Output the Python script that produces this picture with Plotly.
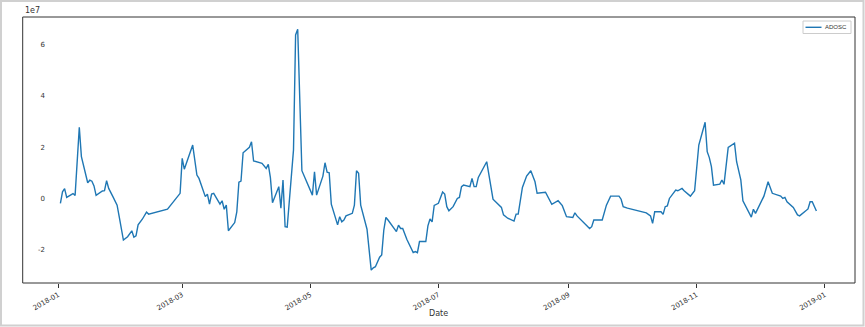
import plotly.graph_objects as go

# ---- data (units of 1e7) ----
dates = [
    "2018-01-02", "2018-01-03", "2018-01-04", "2018-01-05", "2018-01-06", "2018-01-08", "2018-01-09",
    "2018-01-11", "2018-01-12", "2018-01-15", "2018-01-16", "2018-01-17", "2018-01-18", "2018-01-19",
    "2018-01-22", "2018-01-23", "2018-01-24", "2018-01-25", "2018-01-27", "2018-01-29", "2018-01-30",
    "2018-02-01", "2018-02-03", "2018-02-05", "2018-02-06", "2018-02-07", "2018-02-08", "2018-02-10",
    "2018-02-12", "2018-02-13", "2018-02-22", "2018-02-26", "2018-02-27", "2018-02-28",
    "2018-03-01", "2018-03-02", "2018-03-06", "2018-03-08", "2018-03-09", "2018-03-11", "2018-03-12",
    "2018-03-13", "2018-03-14", "2018-03-15", "2018-03-16", "2018-03-19", "2018-03-20", "2018-03-21",
    "2018-03-22", "2018-03-23", "2018-03-26", "2018-03-27", "2018-03-28", "2018-03-29", "2018-03-30",
    "2018-04-02", "2018-04-03", "2018-04-04", "2018-04-08", "2018-04-10", "2018-04-11", "2018-04-12",
    "2018-04-13", "2018-04-16", "2018-04-17", "2018-04-18", "2018-04-19", "2018-04-20", "2018-04-23",
    "2018-04-24", "2018-04-25", "2018-04-27",
    "2018-05-02", "2018-05-03", "2018-05-04", "2018-05-07", "2018-05-08", "2018-05-09", "2018-05-10",
    "2018-05-11", "2018-05-14", "2018-05-15", "2018-05-16", "2018-05-17", "2018-05-18", "2018-05-21",
    "2018-05-22", "2018-05-23", "2018-05-24", "2018-05-25", "2018-05-28", "2018-05-30", "2018-05-31",
    "2018-06-01", "2018-06-03", "2018-06-04", "2018-06-05", "2018-06-06", "2018-06-07", "2018-06-11",
    "2018-06-12", "2018-06-13", "2018-06-14", "2018-06-16", "2018-06-19", "2018-06-20", "2018-06-21",
    "2018-06-22", "2018-06-25", "2018-06-26", "2018-06-27", "2018-06-28", "2018-06-29",
    "2018-07-01", "2018-07-03", "2018-07-04", "2018-07-05", "2018-07-06", "2018-07-08", "2018-07-10",
    "2018-07-11", "2018-07-12", "2018-07-13", "2018-07-16", "2018-07-17", "2018-07-18", "2018-07-19",
    "2018-07-20", "2018-07-24", "2018-07-27", "2018-07-30", "2018-07-31",
    "2018-08-01", "2018-08-03", "2018-08-06", "2018-08-07", "2018-08-08", "2018-08-10", "2018-08-12",
    "2018-08-14", "2018-08-16", "2018-08-17", "2018-08-21", "2018-08-24", "2018-08-27", "2018-08-29",
    "2018-08-31",
    "2018-09-03", "2018-09-04", "2018-09-05", "2018-09-11", "2018-09-12", "2018-09-13", "2018-09-17",
    "2018-09-19", "2018-09-21", "2018-09-25", "2018-09-26", "2018-09-27", "2018-09-29",
    "2018-10-08", "2018-10-09", "2018-10-10", "2018-10-11", "2018-10-12", "2018-10-15", "2018-10-16",
    "2018-10-17", "2018-10-18", "2018-10-19", "2018-10-22", "2018-10-23", "2018-10-25", "2018-10-26",
    "2018-10-29", "2018-10-31",
    "2018-11-02", "2018-11-05", "2018-11-06", "2018-11-07", "2018-11-08", "2018-11-09", "2018-11-12",
    "2018-11-13", "2018-11-14", "2018-11-16", "2018-11-19", "2018-11-20", "2018-11-22", "2018-11-23",
    "2018-11-27", "2018-11-28", "2018-11-29",
    "2018-12-03", "2018-12-05", "2018-12-07", "2018-12-11", "2018-12-12", "2018-12-13", "2018-12-14",
    "2018-12-17", "2018-12-19", "2018-12-20", "2018-12-24", "2018-12-25", "2018-12-26", "2018-12-27",
    "2018-12-28",
]
adosc_1e7 = [
    -0.18, 0.27, 0.39, 0.05, 0.10, 0.20, 0.13,
    2.78, 1.64, 0.62, 0.72, 0.68, 0.50, 0.13,
    0.30, 0.31, 0.70, 0.40, 0.08, -0.25, -0.70,
    -1.61, -1.48, -1.25, -1.50, -1.45, -1.02, -0.80,
    -0.52, -0.60, -0.41, 0.01, 0.08, 0.21,
    1.57, 1.15, 2.09, 0.92, 0.79, 0.27, 0.08,
    0.18, -0.21, 0.18, 0.21, -0.21, -0.08, -0.41,
    -0.25, -1.25, -0.93, -0.51, 0.64, 0.69, 1.79,
    2.00, 2.22, 1.47, 1.38, 1.18, 1.34, 0.82,
    -0.16, 0.47, -0.37, 0.73, -1.09, -1.11, 1.90,
    6.38, 6.60, 1.09,
    0.14, 1.05, 0.14, 0.88, 1.40, 1.03, 1.01,
    -0.21, -1.02, -0.70, -0.90, -0.83, -0.67, -0.57,
    -0.25, 1.09, 0.99, -0.25, -1.19, -2.78, -2.69,
    -2.65, -2.28, -2.19, -1.22, -0.73, -0.83, -1.28,
    -1.03, -1.16, -1.16, -1.59, -2.10, -2.06, -2.10,
    -1.67, -1.67, -1.06, -0.79, -0.90, -0.26,
    -0.18, 0.26, 0.18, -0.31, -0.47, -0.31, 0.01,
    0.05, 0.47, 0.53, 0.47, 0.79, 0.47, 0.47,
    0.83, 1.44, -0.02, -0.28, -0.34,
    -0.63, -0.76, -0.87, -0.60, -0.60, 0.44, 0.88,
    1.09, 0.66, 0.21, 0.25, -0.22, -0.08, -0.27,
    -0.70,
    -0.73, -0.55, -0.67, -1.16, -1.09, -0.83, -0.83,
    -0.25, 0.10, 0.10, -0.02, -0.31, -0.37,
    -0.55, -0.63, -0.67, -0.96, -0.51, -0.51, -0.61,
    -0.31, -0.28, 0.01, 0.34, 0.31, 0.40, 0.31,
    0.10, 0.31,
    2.09, 2.98, 1.83, 1.60, 1.25, 0.53, 0.57,
    0.73, 0.56, 2.00, 2.16, 1.44, 0.73, -0.08,
    -0.72, -0.41, -0.57,
    0.10, 0.66, 0.21, 0.10, 0.01, 0.05, -0.12,
    -0.34, -0.63, -0.67, -0.40, -0.12, -0.12, -0.34,
    -0.48,
]
adosc = [v * 1e7 for v in adosc_1e7]

y_tick_vals = [-2e7, 0, 2e7, 4e7, 6e7]
y_tick_text = ["-2", "0", "2", "4", "6"]
series_name = "ADOSC"
x_title = "Date"
offset_text = "1e7"

# ---- layout geometry ----
W, H = 865, 327
ML, MR, MT, MB = 48, 10, 17, 44
PW, PH = W - ML - MR, H - MT - MB
LINE_COLOR = "#1f77b4"


def px_x(p):
    return (p - ML) / PW


def px_y(p):
    return (H - MB - p) / PH


FONT = "DejaVu Sans"
LEG_FONT = "Liberation Sans"
DARK = "#333333"

fig = go.Figure()
fig.add_trace(go.Scatter(
    x=dates, y=adosc, mode="lines", name=series_name,
    line=dict(color=LINE_COLOR, width=1.4), showlegend=False,
))

fig.update_layout(
    width=W, height=H,
    margin=dict(l=ML, r=MR, t=MT, b=MB),
    paper_bgcolor="white", plot_bgcolor="white",
    font=dict(family=FONT, size=8, color=DARK),
    showlegend=False,
    xaxis=dict(
        type="date",
        range=["2017-12-27 02:17", "2019-01-15 09:00"],
        tick0="2018-01-01", dtick="M2", tickformat="%Y-%m",
        tickangle=-30, ticks="outside", ticklen=4, tickcolor=DARK, tickwidth=1,
        showgrid=False, zeroline=False, showline=False,
        tickfont=dict(size=7, family=FONT, color=DARK),
    ),
    yaxis=dict(
        range=[-3.284e7, 7.078e7],
        tickmode="array", tickvals=y_tick_vals, ticktext=y_tick_text,
        ticks="", showgrid=False, zeroline=False, showline=False,
        tickfont=dict(size=7, family=FONT, color=DARK),
        ticklabelstandoff=2,
    ),
    shapes=[
        # axes frame
        dict(type="rect", xref="paper", yref="paper",
             x0=px_x(22.7), x1=1, y0=0, y1=1,
             line=dict(color=DARK, width=1), fillcolor="rgba(0,0,0,0)", layer="above"),
        # outer image border
        dict(type="rect", xref="paper", yref="paper",
             x0=px_x(1), x1=px_x(863.5), y0=px_y(325.5), y1=px_y(1),
             line=dict(color="#d0d0d0", width=2), fillcolor="rgba(0,0,0,0)"),
        # legend box
        dict(type="rect", xref="paper", yref="paper",
             x0=px_x(803), x1=px_x(851), y0=px_y(33.5), y1=px_y(21),
             line=dict(color="#cccccc", width=1), fillcolor="white", layer="above"),
        # legend line sample
        dict(type="line", xref="paper", yref="paper",
             x0=px_x(805.5), x1=px_x(821.5), y0=px_y(27.3), y1=px_y(27.3),
             line=dict(color=LINE_COLOR, width=1.4), layer="above"),
    ],
    annotations=[
        dict(text=offset_text, xref="paper", yref="paper", x=px_x(22.7), y=1,
             xanchor="left", yanchor="bottom", showarrow=False,
             font=dict(size=8, family=FONT, color=DARK)),
        dict(text=x_title, xref="paper", yref="paper", x=px_x(438.9), y=px_y(313),
             xanchor="center", yanchor="middle", showarrow=False,
             font=dict(size=8, family=FONT, color=DARK)),
        dict(text=series_name, xref="paper", yref="paper", x=px_x(848.5), y=px_y(27.3),
             xanchor="right", yanchor="middle", showarrow=False,
             font=dict(size=6, family=LEG_FONT, color=DARK)),
    ],
)

fig.write_html("out.html")
